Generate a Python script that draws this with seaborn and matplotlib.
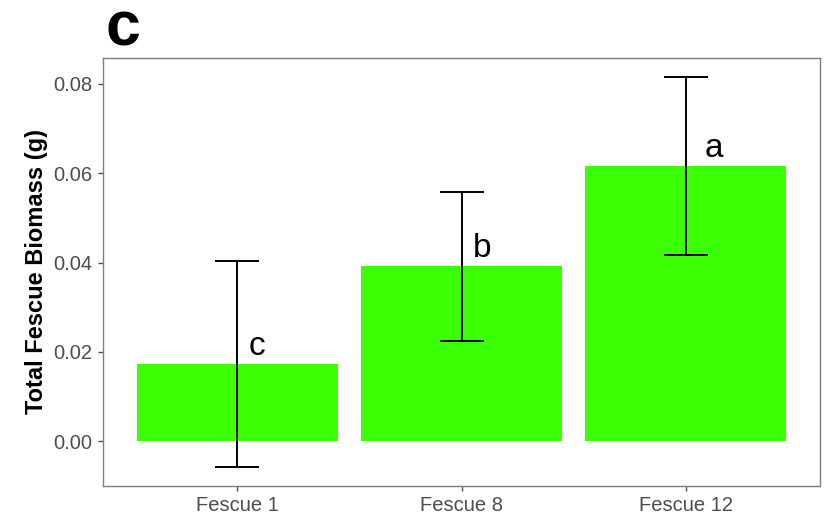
import matplotlib
matplotlib.use("Agg")
import matplotlib.pyplot as plt
import seaborn as sns
import pandas as pd

# Treatment groups, mean biomass and standard error
treatments = ["Fescue 1", "Fescue 8", "Fescue 12"]
mean_biomass = [0.0173, 0.0392, 0.0616]
se_biomass = [0.0230, 0.0167, 0.0200]
letters = ["c", "b", "a"]
y_ticks = [0.00, 0.02, 0.04, 0.06, 0.08]

df = pd.DataFrame({"treatment": treatments, "biomass": mean_biomass, "se": se_biomass})

sns.set_style("white")
plt.rcParams["font.family"] = ["Liberation Sans", "DejaVu Sans"]

fig = plt.figure(figsize=(8.33, 5.23), dpi=100)
ax = fig.add_axes([103 / 833, 1 - 486 / 523, (820 - 103) / 833, (486 - 58) / 523])

sns.barplot(data=df, x="treatment", y="biomass", order=treatments,
            color="#3AFF05", saturation=1, width=0.9, errorbar=None, ax=ax,
            linewidth=0)

xpos = range(len(treatments))
ax.errorbar(list(xpos), df["biomass"], yerr=df["se"], fmt="none",
            ecolor="black", elinewidth=1.4, capsize=16, capthick=1.4, zorder=3)

label_dx = [0.088, 0.092, 0.127]
for i, (m, lab) in enumerate(zip(mean_biomass, letters)):
    ax.text(i + label_dx[i], m + 0.002, lab, ha="center", va="baseline",
            fontsize=24, color="black", zorder=4)

ax.set_xlim(-0.6, 2.6)
ax.set_ylim(-0.0100, 0.0858)
ax.set_yticks(y_ticks)
ax.set_yticklabels([f"{v:.2f}" for v in y_ticks])

ax.set_xlabel("")
ax.set_ylabel("Total Fescue Biomass (g)", fontsize=17, fontweight="bold",
              color="black", labelpad=4)

for side in ["left", "right", "top", "bottom"]:
    ax.spines[side].set_visible(True)
    ax.spines[side].set_color("#7F7F7F")
    ax.spines[side].set_linewidth(1.0)

ax.tick_params(axis="both", which="major", length=3.5, width=1.0,
               color="#4D4D4D", labelcolor="#4D4D4D", labelsize=14.5,
               left=True, bottom=True, pad=4)

fig.text(105 / 833, 1 - 46 / 523, "c", fontsize=45, fontweight="bold",
         ha="left", va="baseline", color="black")

fig.savefig("out.png", dpi=100, facecolor="white")
